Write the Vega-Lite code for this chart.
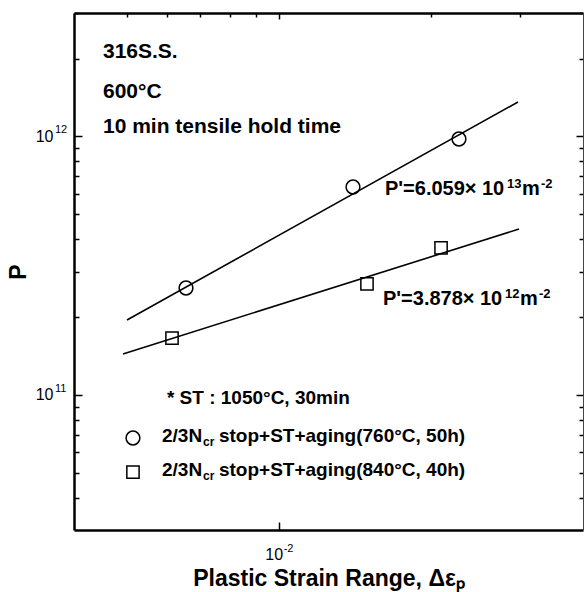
{
  "$schema": "https://vega.github.io/schema/vega-lite/v6.json",
  "width": 509,
  "height": 517,
  "autosize": {"type": "none"},
  "padding": {"left": 74, "top": 13, "right": 1, "bottom": 62},
  "background": "white",
  "config": {
    "view": {"stroke": null},
    "font": "Liberation Sans",
    "axis": {"grid": false, "domainColor": "black", "tickColor": "black", "labelColor": "black", "titleColor": "black", "labelFont": "Liberation Sans", "titleFont": "Liberation Sans", "labelFontSize": 16}
  },
  "resolve": {"axis": {"x": "independent", "y": "independent"}},
  "layer": [
    {
      "data": {"values": [
        {"s": "a", "x": 0.005011, "y": 1.948e11},
        {"s": "a", "x": 0.029752, "y": 1.358e12},
        {"s": "b", "x": 0.00492, "y": 1.439e11},
        {"s": "b", "x": 0.029888, "y": 4.38e11}
      ]},
      "mark": {"type": "line", "color": "black", "strokeWidth": 1.6},
      "encoding": {
        "x": {"field": "x", "type": "quantitative", "scale": {"type": "log", "domain": [0.003936, 0.04], "nice": false},
          "axis": {"orient": "bottom", "values": [0.01], "labelExpr": "'10'", "labelOffset": -5, "tickSize": -8, "tickWidth": 1.5, "labelPadding": 24, "labelFontSize": 16, "domainWidth": 2.5, "title": "Plastic Strain Range, Δεₚ", "titleFontSize": 23, "titleFontWeight": "bold", "titlePadding": 5}},
        "y": {"field": "y", "type": "quantitative", "scale": {"type": "log", "domain": [3e10, 3e12], "nice": false},
          "axis": {"orient": "left", "values": [4e10, 5e10, 6e10, 7e10, 8e10, 9e10, 1e11, 2e11, 3e11, 4e11, 5e11, 6e11, 7e11, 8e11, 9e11, 1e12, 2e12, 3e12],
            "labelExpr": "datum.value == 1e11 || datum.value == 1e12 ? '10' : ''",
            "tickSize": {"condition": {"test": "datum.value == 1e11 || datum.value == 1e12", "value": -8}, "value": -5},
            "tickWidth": 1.5, "labelPadding": 29, "labelFontSize": 16, "domainWidth": 2.5,
            "title": "P", "titleFontSize": 23, "titleFontWeight": "bold", "titlePadding": 5}},
        "detail": {"field": "s"}
      }
    },
    {
      "data": {"values": [
        {"g": "c", "x": 0.006556, "y": 2.59e11},
        {"g": "c", "x": 0.014028, "y": 6.368e11},
        {"g": "c", "x": 0.022734, "y": 9.765e11},
        {"g": "s", "x": 0.006151, "y": 1.659e11},
        {"g": "s", "x": 0.014952, "y": 2.684e11},
        {"g": "s", "x": 0.020951, "y": 3.7e11},
        {"g": "c", "x": 0.005149, "y": 6.808e10},
        {"g": "s", "x": 0.005149, "y": 5.029e10}
      ]},
      "mark": {"type": "point", "filled": false, "color": "black", "strokeWidth": 1.5, "opacity": 1},
      "encoding": {
        "x": {"field": "x", "type": "quantitative", "scale": {"type": "log", "domain": [0.003936, 0.04], "nice": false},
          "axis": {"orient": "top", "values": [0.005, 0.006, 0.007, 0.008, 0.009, 0.01, 0.02, 0.03], "labels": false, "title": null,
            "tickSize": {"condition": {"test": "datum.value == 0.01", "value": -6}, "value": -4}, "tickWidth": 1.5, "domainWidth": 2.5}},
        "y": {"field": "y", "type": "quantitative", "scale": {"type": "log", "domain": [3e10, 3e12], "nice": false},
          "axis": {"orient": "right", "values": [4e10, 5e10, 6e10, 7e10, 8e10, 9e10, 1e11, 2e11, 3e11, 4e11, 5e11, 6e11, 7e11, 8e11, 9e11, 1e12, 2e12, 3e12], "labels": false, "title": null,
            "tickSize": {"condition": {"test": "datum.value == 1e11 || datum.value == 1e12", "value": -7}, "value": -4}, "tickWidth": 1.5, "domainWidth": 1, "domainColor": "#444"}},
        "shape": {"field": "g", "type": "nominal", "scale": {"domain": ["c", "s"], "range": ["circle", "square"]}, "legend": null},
        "size": {"field": "g", "type": "nominal", "scale": {"domain": ["c", "s"], "range": [190, 150]}, "legend": null}
      }
    },
    {
      "data": {"values": [
        {"x": 0.003936, "y": 1e11, "t": "11"},
        {"x": 0.003936, "y": 1e12, "t": "12"}
      ]},
      "mark": {"type": "text", "align": "left", "baseline": "middle", "fontSize": 11, "color": "black", "dx": -19, "dy": -6},
      "encoding": {
        "x": {"field": "x", "type": "quantitative", "scale": {"type": "log", "domain": [0.003936, 0.04], "nice": false}, "axis": null},
        "y": {"field": "y", "type": "quantitative", "scale": {"type": "log", "domain": [3e10, 3e12], "nice": false}, "axis": null},
        "text": {"field": "t"}
      }
    },
    {
      "data": {"values": [
        {"x": 0.01, "y": 3e10, "t": "-2"}
      ]},
      "mark": {"type": "text", "align": "left", "baseline": "middle", "fontSize": 11, "color": "black", "dx": 5, "dy": 19},
      "encoding": {
        "x": {"field": "x", "type": "quantitative", "scale": {"type": "log", "domain": [0.003936, 0.04], "nice": false}, "axis": null},
        "y": {"field": "y", "type": "quantitative", "scale": {"type": "log", "domain": [3e10, 3e12], "nice": false}, "axis": null},
        "text": {"field": "t"}
      }
    },
    {
      "data": {"values": [
        {"x": 0.004491, "y": 2.119e12, "t": "316S.S."},
        {"x": 0.004491, "y": 1.484e12, "t": "600°C"},
        {"x": 0.004491, "y": 1.087e12, "t": "10 min tensile hold time"}
      ]},
      "mark": {"type": "text", "align": "left", "baseline": "middle", "fontSize": 21, "fontWeight": "bold", "color": "black"},
      "encoding": {
        "x": {"field": "x", "type": "quantitative", "scale": {"type": "log", "domain": [0.003936, 0.04], "nice": false}, "axis": null},
        "y": {"field": "y", "type": "quantitative", "scale": {"type": "log", "domain": [3e10, 3e12], "nice": false}, "axis": null},
        "text": {"field": "t"}
      }
    },
    {
      "data": {"name": "ann", "values": [
        {"x": 0.01623, "y": 5.93e11, "a": "P'=6.059×", "b": "10", "c": "13"},
        {"x": 0.016083, "y": 2.226e11, "a": "P'=3.878×", "b": "10", "c": "12"}
      ]},
      "encoding": {
        "x": {"field": "x", "type": "quantitative", "scale": {"type": "log", "domain": [0.003936, 0.04], "nice": false}, "axis": null},
        "y": {"field": "y", "type": "quantitative", "scale": {"type": "log", "domain": [3e10, 3e12], "nice": false}, "axis": null}
      },
      "layer": [
        {"mark": {"type": "text", "align": "left", "baseline": "alphabetic", "fontSize": 20, "fontWeight": "bold", "color": "black"}, "encoding": {"text": {"field": "a"}}},
        {"mark": {"type": "text", "align": "left", "baseline": "alphabetic", "fontSize": 20, "fontWeight": "bold", "color": "black", "dx": 97}, "encoding": {"text": {"field": "b"}}},
        {"mark": {"type": "text", "align": "left", "baseline": "alphabetic", "fontSize": 13, "fontWeight": "bold", "color": "black", "dx": 122, "dy": -7}, "encoding": {"text": {"field": "c"}}},
        {"mark": {"type": "text", "align": "left", "baseline": "alphabetic", "fontSize": 20, "fontWeight": "bold", "color": "black", "dx": 137, "text": "m"}, "encoding": {}},
        {"mark": {"type": "text", "align": "left", "baseline": "alphabetic", "fontSize": 13, "fontWeight": "bold", "color": "black", "dx": 156, "dy": -7, "text": "-2"}, "encoding": {}}
      ]
    },
    {
      "data": {"values": [
        {"x": 0.006011, "y": 9.723e10, "t": "* ST : 1050°C, 30min"}
      ]},
      "mark": {"type": "text", "align": "left", "baseline": "middle", "fontSize": 19, "fontWeight": "bold", "color": "black"},
      "encoding": {
        "x": {"field": "x", "type": "quantitative", "scale": {"type": "log", "domain": [0.003936, 0.04], "nice": false}, "axis": null},
        "y": {"field": "y", "type": "quantitative", "scale": {"type": "log", "domain": [3e10, 3e12], "nice": false}, "axis": null},
        "text": {"field": "t"}
      }
    },
    {
      "data": {"values": [
        {"x": 0.005876, "y": 6.93e10, "a": "2/3N", "b": "cr", "c": "stop+ST+aging(760°C, 50h)"},
        {"x": 0.005876, "y": 5.118e10, "a": "2/3N", "b": "cr", "c": "stop+ST+aging(840°C, 40h)"}
      ]},
      "encoding": {
        "x": {"field": "x", "type": "quantitative", "scale": {"type": "log", "domain": [0.003936, 0.04], "nice": false}, "axis": null},
        "y": {"field": "y", "type": "quantitative", "scale": {"type": "log", "domain": [3e10, 3e12], "nice": false}, "axis": null}
      },
      "layer": [
        {"mark": {"type": "text", "align": "left", "baseline": "middle", "fontSize": 19, "fontWeight": "bold", "color": "black"}, "encoding": {"text": {"field": "a"}}},
        {"mark": {"type": "text", "align": "left", "baseline": "middle", "fontSize": 12, "fontWeight": "bold", "color": "black", "dx": 41, "dy": 6}, "encoding": {"text": {"field": "b"}}},
        {"mark": {"type": "text", "align": "left", "baseline": "middle", "fontSize": 19, "fontWeight": "bold", "color": "black", "dx": 57}, "encoding": {"text": {"field": "c"}}}
      ]
    }
  ]
}
